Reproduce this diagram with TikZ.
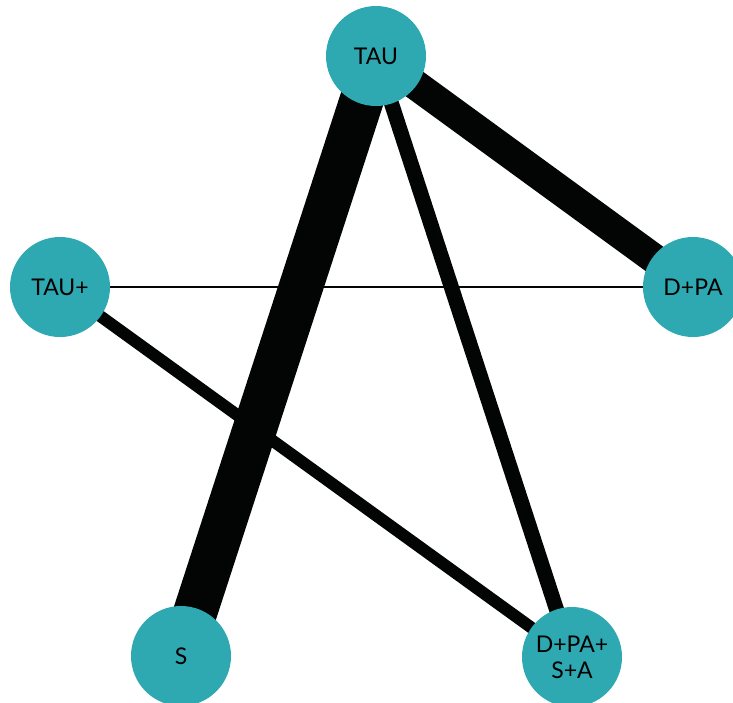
\documentclass[tikz,border=0pt]{standalone}
\usepackage{fontspec}
\setmainfont{Lato}
\usetikzlibrary{backgrounds}
\definecolor{teal}{RGB}{46,168,177}
\definecolor{ink}{RGB}{2,5,4}
\tikzset{
	arm/.style={circle, fill=teal, minimum size=100pt, inner sep=0pt, align=center, font=\fontsize{23}{26}\selectfont},
	link/.style={ink, line cap=butt}
}

\begin{document}
\begin{tikzpicture}[x=1pt, y=-1pt]
		\useasboundingbox (0,0) rectangle (733,702);
		%treatments
		\node[arm] (tau) at (376,56) {TAU};
		\node[arm] (tauplus) at (60,287) {TAU+};
		\node[arm] (dpa) at (693,287) {D+PA};
		\node[arm] (s) at (181,656) {S};
		\node[arm] (dpasa) at (572,657) {D+PA+\\S+A};
		%comparisons
		\begin{scope}[on background layer]
		\draw [link, line width=44pt] (tau.center) -- (s.center);
		\draw [link, line width=30pt] (tau.center) -- (dpa.center);
		\draw [link, line width=15pt] (tau.center) -- (dpasa.center);
		\draw [link, line width=12pt] (tauplus.center) -- (dpasa.center);
		\draw [link, line width=2.5pt] (tauplus.center) -- (dpa.center);
		\end{scope}
\end{tikzpicture}
\end{document}
